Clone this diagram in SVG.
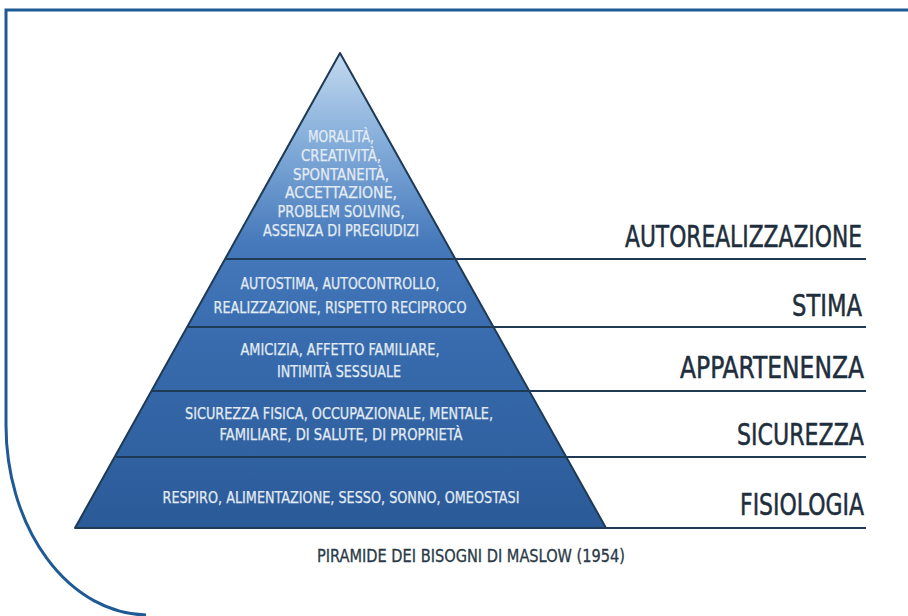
<svg xmlns="http://www.w3.org/2000/svg" width="908" height="616" viewBox="0 0 908 616">
  <defs>
    <linearGradient id="pyr" gradientUnits="userSpaceOnUse" x1="0" y1="53" x2="0" y2="528">
      <stop offset="0" stop-color="#c4d9ef"/>
      <stop offset="0.18" stop-color="#86afdb"/>
      <stop offset="0.4" stop-color="#4679bb"/>
      <stop offset="0.6" stop-color="#386cae"/>
      <stop offset="1" stop-color="#2b5a98"/>
    </linearGradient>
    <style>
      .in { font-family: "Liberation Sans Narrow", "DejaVu Sans Condensed", "Liberation Sans", sans-serif; font-size: 15.5px; fill: #e3ebf3; text-anchor: middle; stroke: #e3ebf3; stroke-width: 0.25; }
      .lab { font-family: "Liberation Sans Narrow", "DejaVu Sans Condensed", "Liberation Sans", sans-serif; font-size: 30px; fill: #1e2e3c; text-anchor: end; stroke: #1e2e3c; stroke-width: 0.5; }
      .cap { font-family: "Liberation Sans Narrow", "DejaVu Sans Condensed", "Liberation Sans", sans-serif; font-size: 17px; fill: #2a3a48; stroke: #2a3a48; stroke-width: 0.3; }
      .sep { stroke: #1e3a55; stroke-width: 2; fill: none; }
    </style>
  </defs>
  <rect width="908" height="616" fill="#ffffff"/>
  <path d="M908,10 H6 V425 A142 190 0 0 0 146 615" fill="none" stroke="#1f5a94" stroke-width="3"/>

  <g id="pyramid">
    <polygon points="340,53 606,528 75,528" fill="url(#pyr)" stroke="#1e3a55" stroke-width="2" stroke-linejoin="round"/>
  </g>

  <g id="connectors">
    <line class="sep" x1="226" y1="259" x2="866" y2="259"/>
    <line class="sep" x1="188" y1="327" x2="866" y2="327"/>
    <line class="sep" x1="152" y1="391" x2="866" y2="391"/>
    <line class="sep" x1="116" y1="457" x2="866" y2="457"/>
    <line class="sep" x1="75" y1="528" x2="866" y2="528"/>
  </g>

  <g id="level-autorealizzazione">
    <text class="in" x="341" y="142" textLength="66" lengthAdjust="spacingAndGlyphs">MORALITÀ,</text>
    <text class="in" x="341" y="161" textLength="80" lengthAdjust="spacingAndGlyphs">CREATIVITÀ,</text>
    <text class="in" x="341" y="180" textLength="96" lengthAdjust="spacingAndGlyphs">SPONTANEITÀ,</text>
    <text class="in" x="341" y="198" textLength="112" lengthAdjust="spacingAndGlyphs">ACCETTAZIONE,</text>
    <text class="in" x="341" y="217" textLength="127" lengthAdjust="spacingAndGlyphs">PROBLEM SOLVING,</text>
    <text class="in" x="341" y="236" textLength="156" lengthAdjust="spacingAndGlyphs">ASSENZA DI PREGIUDIZI</text>
    <text class="lab" x="862" y="247" textLength="237" lengthAdjust="spacingAndGlyphs">AUTOREALIZZAZIONE</text>
  </g>

  <g id="level-stima">
    <text class="in" x="340" y="289" textLength="199" lengthAdjust="spacingAndGlyphs">AUTOSTIMA, AUTOCONTROLLO,</text>
    <text class="in" x="340" y="313" textLength="253" lengthAdjust="spacingAndGlyphs">REALIZZAZIONE, RISPETTO RECIPROCO</text>
    <text class="lab" x="862" y="316" textLength="70" lengthAdjust="spacingAndGlyphs">STIMA</text>
  </g>

  <g id="level-appartenenza">
    <text class="in" x="340" y="355" textLength="199" lengthAdjust="spacingAndGlyphs">AMICIZIA,  AFFETTO FAMILIARE,</text>
    <text class="in" x="339" y="377" textLength="124" lengthAdjust="spacingAndGlyphs">INTIMITÀ SESSUALE</text>
    <text class="lab" x="864" y="378" textLength="184" lengthAdjust="spacingAndGlyphs">APPARTENENZA</text>
  </g>

  <g id="level-sicurezza">
    <text class="in" x="339" y="419" textLength="308" lengthAdjust="spacingAndGlyphs">SICUREZZA FISICA, OCCUPAZIONALE, MENTALE,</text>
    <text class="in" x="341" y="440" textLength="243" lengthAdjust="spacingAndGlyphs">FAMILIARE, DI SALUTE, DI PROPRIETÀ</text>
    <text class="lab" x="864" y="445" textLength="127" lengthAdjust="spacingAndGlyphs">SICUREZZA</text>
  </g>

  <g id="level-fisiologia">
    <text class="in" x="341" y="503" textLength="357" lengthAdjust="spacingAndGlyphs">RESPIRO, ALIMENTAZIONE, SESSO, SONNO, OMEOSTASI</text>
    <text class="lab" x="864" y="515" textLength="124" lengthAdjust="spacingAndGlyphs">FISIOLOGIA</text>
  </g>

  <g id="caption">
    <text class="cap" x="317" y="562" textLength="308" lengthAdjust="spacingAndGlyphs">PIRAMIDE DEI BISOGNI DI MASLOW (1954)</text>
  </g>
</svg>
